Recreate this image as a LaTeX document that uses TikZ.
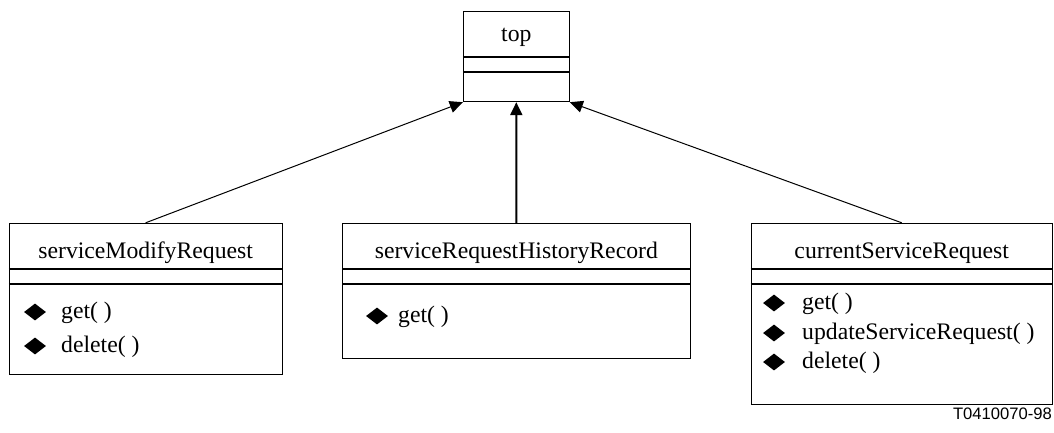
\documentclass[tikz,border=0pt]{standalone}
\usepackage{fontspec}
\setmainfont{Liberation Serif}
\setsansfont{Liberation Sans}
\usetikzlibrary{arrows.meta,shapes.geometric}

\tikzset{
  classbox/.style={draw,line width=1pt,inner sep=0pt},
  classname/.style={inner sep=0pt,text height=16.4pt,text depth=5.2pt},
  sepline/.style={line width=2pt},
  opmark/.style={diamond,fill,inner sep=0pt,minimum width=22pt,minimum height=17pt},
  opname/.style={anchor=west,inner sep=0pt,text height=16.4pt,text depth=5.2pt},
  inherit/.style={-{Triangle[length=13pt,width=12pt]},line width=1pt}
}

% two compartment lines under the class name
\newcommand\compartments[1]{%
  \draw[sepline] ([yshift=-46pt]#1.north west) -- ([yshift=-46pt]#1.north east);
  \draw[sepline] ([yshift=-61pt]#1.north west) -- ([yshift=-61pt]#1.north east);}

\begin{document}
\begin{tikzpicture}[x=1pt,y=-1pt,font=\fontsize{23.7}{28}\selectfont]
\useasboundingbox (0,0) rectangle (1054,432);

\node[classbox,minimum width=106pt,minimum height=90.7pt] (top) at (516.3,56.35) {};
\node[classbox,minimum width=272.7pt,minimum height=150.7pt] (smr) at (145.65,298.65) {};
\node[classbox,minimum width=347.3pt,minimum height=135pt] (srhr) at (516.35,290.8) {};
\node[classbox,minimum width=301.5pt,minimum height=180.7pt] (csr) at (901.75,313.65) {};

\compartments{top}
\compartments{smr}
\compartments{srhr}
\compartments{csr}

\node[classname] (topname) at (516.3,36) {top};
\node[classname] (smrname) at (145.65,252.5) {serviceModifyRequest};
\node[classname] (srhrname) at (516.35,252.5) {serviceRequestHistoryRecord};
\node[classname] (csrname) at (901.75,252.5) {currentServiceRequest};

\node[opmark] (smr1) at (35,312) {};
\node[opname] (smrget) at (61,313) {get( )};
\node[opmark] (smr2) at (35,346) {};
\node[opname] (smrdel) at (61,347) {delete( )};

\node[opmark] (srhr1) at (377,316) {};
\node[opname] (srhrget) at (398,317) {get( )};

\node[opmark] (csr1) at (774,303) {};
\node[opname] (csrget) at (802,304) {get( )};
\node[opmark] (csr2) at (774,333) {};
\node[opname] (csrupd) at (802,334) {updateServiceRequest( )};
\node[opmark] (csr3) at (774,362) {};
\node[opname] (csrdel) at (802,363) {delete( )};

\draw[inherit] (smr.north) -- (top.south west);
\draw[inherit,line width=2pt] (srhr.north) -- (top.south);
\draw[inherit] (csr.north) -- (top.south east);

\node[anchor=base east,inner sep=0pt,font=\sffamily\fontsize{16.6}{20}\selectfont] (figid) at (1052,419) {T0410070-98};
\end{tikzpicture}
\end{document}
